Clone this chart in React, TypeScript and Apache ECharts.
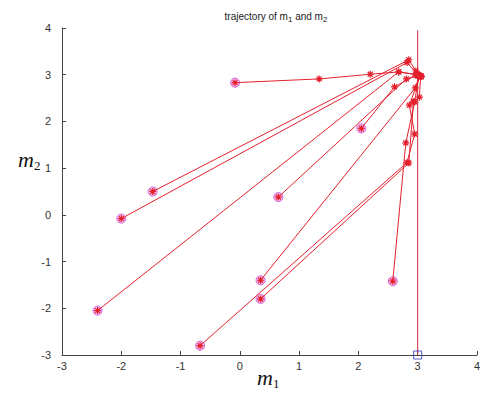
import React, { useEffect, useRef } from "react";
import * as echarts from "echarts";

const xTicks = [-3, -2, -1, 0, 1, 2, 3, 4];
const yTicks = [-3, -2, -1, 0, 1, 2, 3, 4];

const traj1 = [[-0.08, 2.83], [1.34, 2.91], [2.2, 3.01], [2.68, 3.06], [3.0, 3.0], [3.06, 2.96]];
const traj2 = [[-1.47, 0.5], [2.85, 3.32], [2.97, 3.08], [3.04, 2.98]];
const traj3 = [[-2.0, -0.08], [2.82, 3.26], [2.99, 3.02], [3.06, 2.97]];
const traj4 = [[-2.4, -2.05], [2.68, 3.06], [2.98, 3.0], [3.05, 2.96]];
const traj5 = [[0.65, 0.38], [2.81, 2.91], [3.0, 2.99], [3.06, 2.96]];
const traj6 = [[2.05, 1.85], [2.61, 2.74], [2.97, 2.99], [3.05, 2.97]];
const traj7 = [[0.35, -1.4], [2.96, 2.72], [3.03, 2.98]];
const traj8 = [[0.35, -1.8], [2.85, 1.11], [2.93, 2.42], [3.03, 2.52], [3.05, 2.96]];
const traj9 = [[-0.67, -2.8], [2.82, 1.12], [2.95, 1.73], [2.86, 2.35], [3.04, 2.97]];
const traj10 = [[2.58, -1.42], [2.8, 1.54], [2.95, 2.42], [3.02, 2.98]];
const trajectories = [traj1, traj2, traj3, traj4, traj5, traj6, traj7, traj8, traj9, traj10];

const verticalTraj = [[3, -3], [3, 3.95]];
const squareStart = [[3, -3]];

const RED = "#e4202e";
const STAR = "path://M0,-5L0,5M-5,0L5,0M-3.6,-3.6L3.6,3.6M-3.6,3.6L3.6,-3.6";

export default function App() {
  const ref = useRef<HTMLDivElement>(null);
  useEffect(() => {
    if (!ref.current) return;
    const chart = echarts.init(ref.current, undefined, { renderer: "svg" });
    const starts = trajectories.map((t) => t[0]);
    const series: any[] = [];
    series.push({
      type: "scatter",
      data: starts,
      symbol: "circle",
      symbolSize: 9,
      z: 1,
      itemStyle: { color: "rgba(245,120,220,0.55)", borderColor: "#c040d8", borderWidth: 1 },
    });
    trajectories.forEach((t) => {
      series.push({
        type: "line",
        data: t,
        symbol: STAR,
        symbolSize: 7,
        showSymbol: true,
        z: 3,
        lineStyle: { color: RED, width: 1 },
        itemStyle: { color: "rgba(0,0,0,0)", borderColor: RED, borderWidth: 1.2 },
      });
    });
    series.push({
      type: "line",
      data: verticalTraj,
      showSymbol: false,
      symbol: "none",
      z: 3,
      lineStyle: { color: "#c8303c", width: 1 },
    });
    series.push({
      type: "scatter",
      data: squareStart,
      symbol: "rect",
      symbolSize: 8,
      z: 4,
      itemStyle: { color: "rgba(0,0,0,0)", borderColor: "#3030c0", borderWidth: 1 },
    });
    chart.setOption({
      animation: false,
      backgroundColor: "#ffffff",
      title: {
        text: "trajectory of m{s|1} and m{s|2}",
        left: 271,
        textAlign: "center",
        top: 4,
        textStyle: {
          fontFamily: "Liberation Sans, Arial, sans-serif",
          fontSize: 10,
          fontWeight: "normal",
          color: "#222",
          rich: {
            s: { fontSize: 8, verticalAlign: "bottom", padding: [6, 0, 0, 0], color: "#222", fontFamily: "Liberation Sans, Arial, sans-serif" },
          },
        },
      },
      grid: { left: 62, right: 1, top: 28, bottom: 38 },
      xAxis: {
        type: "value",
        min: -3,
        max: 4,
        interval: 1,
        axisLine: { show: true, onZero: false, lineStyle: { color: "#444", width: 1 } },
        axisTick: { show: true, inside: true, length: 4, lineStyle: { color: "#444" } },
        splitLine: { show: false },
        axisLabel: {
          margin: 5,
          fontSize: 11,
          color: "#333",
          fontFamily: "Liberation Sans, Arial, sans-serif",
          formatter: (v: number) => (xTicks.includes(v) ? String(v) : ""),
        },
      },
      yAxis: {
        type: "value",
        min: -3,
        max: 4,
        interval: 1,
        axisLine: { show: true, onZero: false, lineStyle: { color: "#444", width: 1 } },
        axisTick: { show: true, inside: true, length: 4, lineStyle: { color: "#444" } },
        splitLine: { show: false },
        axisLabel: {
          margin: 11,
          fontSize: 11,
          color: "#333",
          fontFamily: "Liberation Sans, Arial, sans-serif",
          formatter: (v: number) => (yTicks.includes(v) ? String(v) : ""),
        },
      },
      graphic: [
        {
          type: "text",
          left: 257,
          top: 366,
          style: {
            text: "m{s|1}",
            font: "italic 22px 'Liberation Serif', 'Times New Roman', serif",
            fill: "#111",
            rich: {
              s: { fontSize: 13, fontStyle: "normal", fontFamily: "Liberation Serif, serif", padding: [12, 0, 0, 0], fill: "#111" },
            },
          },
        },
        {
          type: "text",
          left: 18,
          top: 148,
          style: {
            text: "m{s|2}",
            font: "italic 22px 'Liberation Serif', 'Times New Roman', serif",
            fill: "#111",
            rich: {
              s: { fontSize: 13, fontStyle: "normal", fontFamily: "Liberation Serif, serif", padding: [12, 0, 0, 0], fill: "#111" },
            },
          },
        },
      ],
      series,
    });
    return () => chart.dispose();
  }, []);
  return <div ref={ref} style={{ position: "fixed", left: 0, top: 0, width: 483, height: 393 }} />;
}
